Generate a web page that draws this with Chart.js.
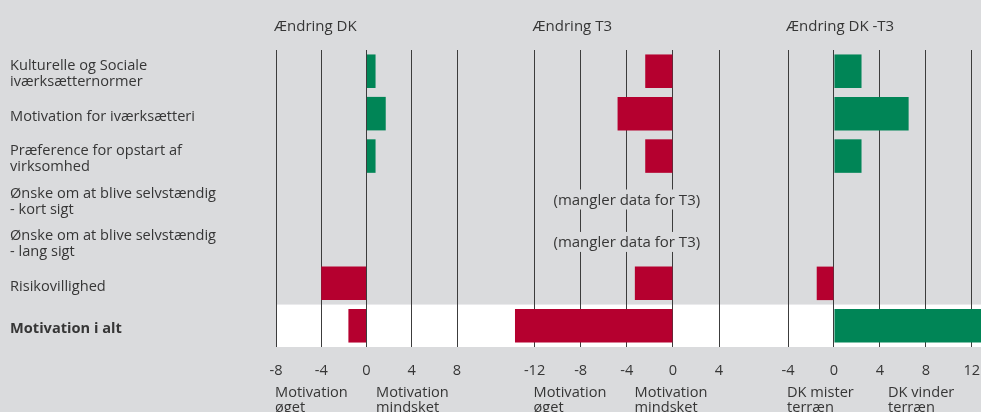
<!DOCTYPE html>
<html>
<head>
<meta charset="utf-8">
<script src="https://cdn.jsdelivr.net/npm/chart.js@4.4.1/dist/chart.umd.min.js"></script>
<style>
  body { margin: 0; background: #dadbdd; width: 981px; height: 412px; overflow: hidden; position: relative; }
  canvas { position: absolute; top: 0; }
</style>
</head>
<body>
<canvas id="chartDK" width="500" height="412" style="left:0"></canvas>
<canvas id="chartT3" width="260" height="412" style="left:500px"></canvas>
<canvas id="chartDiff" width="221" height="412" style="left:760px"></canvas>
<script>
// kategorier (rækker) og værdier
const categories = [
    ["Kulturelle og Sociale", "iværksætternormer"],
    "Motivation for iværksætteri",
    ["Præference for opstart af", "virksomhed"],
    ["Ønske om at blive selvstændig", "- kort sigt"],
    ["Ønske om at blive selvstændig", "- lang sigt"],
    "Risikovillighed",
    "Motivation i alt"
];
const changeDK = [0.8, 1.7, 0.8, null, null, -4.0, -1.6];
const changeT3 = [-2.4, -4.8, -2.4, null, null, -3.3, -13.7];
const changeDKT3 = [2.4, 6.5, 2.4, null, null, -1.5, 13];

const panelTitles = ["Ændring DK", "Ændring T3", "Ændring DK -T3"];
const notesDK = [["Motivation", "øget"], ["Motivation", "mindsket"]];
const notesDiff = [["DK mister", "terræn"], ["DK vinder", "terræn"]];
const missingText = "(mangler data for T3)";
const totalRow = 6; // "Motivation i alt" (hvid baggrund, fed tekst)

const GREEN = "#008556";
const RED = "#b5002f";
const GRID = "#3c3c3c";
const TEXT = "#363636";
const BG = "#dadbdd";
const FONT = '"Open Sans", sans-serif';

// hvid baggrund bag rækken "Motivation i alt"
const bandPlugin = {
    id: "band",
    beforeDraw(chart, args, opts) {
        const area = chart.chartArea;
        const step = (area.bottom - area.top) / categories.length;
        const yc = chart.scales.y.getPixelForValue(totalRow);
        const ctx = chart.ctx;
        ctx.save();
        ctx.fillStyle = "#ffffff";
        const x0 = opts.fromArea ? area.left : 0;
        ctx.fillRect(x0, yc - step / 2, chart.width - x0, step);
        ctx.restore();
    }
};

// overskrift og forklarende tekst under aksen, fra første gitterlinje
const textPlugin = {
    id: "panelText",
    afterDraw(chart, args, opts) {
        const ctx = chart.ctx;
        const left = chart.scales.x.getPixelForTick(0);
        ctx.save();
        ctx.fillStyle = TEXT;
        ctx.textAlign = "left";
        ctx.textBaseline = "alphabetic";
        ctx.font = "15px " + FONT;
        ctx.fillText(opts.title, left - 2, 31);
        ctx.font = "14.6px " + FONT;
        opts.notes.forEach((lines, i) => {
            lines.forEach((t, j) => ctx.fillText(t, left - 1 + i * 101, 397 + j * 15));
        });
        ctx.restore();
    }
};

// "(mangler data for T3)" i rækker uden data
const missingPlugin = {
    id: "missing",
    afterDatasetsDraw(chart, args, opts) {
        if (!opts.text) return;
        const ctx = chart.ctx;
        const x = chart.scales.x.getPixelForValue(opts.at);
        ctx.save();
        ctx.font = "15px " + FONT;
        const w = ctx.measureText(opts.text).width;
        chart.data.datasets[0].data.forEach((v, i) => {
            if (v !== null) return;
            const y = chart.scales.y.getPixelForValue(i);
            ctx.fillStyle = BG;
            ctx.fillRect(x - w / 2 - 2, y - 9, w + 4, 20);
            ctx.fillStyle = TEXT;
            ctx.textAlign = "center";
            ctx.textBaseline = "middle";
            ctx.fillText(opts.text, x, y + 2);
        });
        ctx.restore();
    }
};

function makeChart(id, values, cfg) {
    return new Chart(document.getElementById(id), {
        type: "bar",
        data: {
            labels: categories,
            datasets: [{
                data: values,
                backgroundColor: values.map(v => v >= 0 ? GREEN : RED),
                borderWidth: 0,
                barPercentage: 0.79,
                categoryPercentage: 1
            }]
        },
        plugins: [bandPlugin, textPlugin, missingPlugin],
        options: {
            indexAxis: "y",
            responsive: false,
            animation: false,
            layout: { padding: { top: 50, bottom: 0, left: cfg.padLeft, right: cfg.padRight } },
            plugins: {
                legend: { display: false },
                tooltip: { enabled: false },
                band: { fromArea: cfg.showLabels },
                panelText: { title: cfg.title, notes: cfg.notes },
                missing: { text: cfg.missing, at: -4 }
            },
            scales: {
                x: {
                    min: cfg.min,
                    max: cfg.max,
                    grid: { color: GRID, lineWidth: 1, drawTicks: false },
                    border: { display: false },
                    ticks: {
                        stepSize: 4,
                        includeBounds: false,
                        color: TEXT,
                        font: { family: FONT, size: 14.6 },
                        padding: 15
                    },
                    afterFit: s => { s.height = 65; s.paddingLeft = 0; s.paddingRight = 0; }
                },
                y: {
                    display: cfg.showLabels,
                    grid: { display: false },
                    border: { display: false },
                    ticks: {
                        crossAlign: "far",
                        padding: 0,
                        labelOffset: 3,
                        color: TEXT,
                        font: c => ({ family: FONT, size: 14.6, lineHeight: 1.1, weight: c.index === totalRow ? "bold" : "normal" })
                    },
                    afterFit: s => { if (cfg.showLabels) s.width = 266; }
                }
            }
        }
    });
}

makeChart("chartDK", changeDK, {
    title: panelTitles[0], notes: notesDK, showLabels: true,
    min: -8, max: 8, padLeft: 10, padRight: 43
});
makeChart("chartT3", changeT3, {
    title: panelTitles[1], notes: notesDK, showLabels: false, missing: missingText,
    min: -15, max: 4, padLeft: 0, padRight: 41
});
makeChart("chartDiff", changeDKT3, {
    title: panelTitles[2], notes: notesDiff, showLabels: false,
    min: -4, max: 12.8, padLeft: 28, padRight: 0
});
</script>
</body>
</html>
